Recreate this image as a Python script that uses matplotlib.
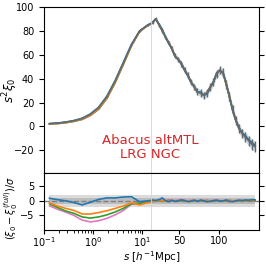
import numpy as np
import matplotlib
matplotlib.use("Agg")
import matplotlib.pyplot as plt

# bin centres: log-spaced small scales, linear large scales
s_small = [0.13, 0.19, 0.28, 0.41, 0.6, 0.88, 1.3, 1.9, 2.8, 4.1, 6.0, 8.8, 13.0]
s_large = [17, 21, 25, 29, 33, 37, 41, 45, 49, 53, 57, 61, 65, 69, 73, 77, 81,
           85, 89, 93, 97, 101, 105, 109, 113, 117, 121, 125, 129, 133, 137, 141, 145]

# s^2 xi_0 of the full sample
full_small = [2.3, 2.8, 3.7, 5.0, 7.0, 10.5, 16.0, 25.0, 38.0, 53.0, 68.0, 80.0, 85.0]
full_large = [87, 90, 85, 80, 75, 70, 65, 59, 56, 52, 47, 43, 37, 33, 29, 28, 26,
              28, 33, 37, 44, 47, 45, 35, 25, 14, 5, -2, -6, -9, -12, -15, -17]

# 1-sigma errors on s^2 xi_0
sig_small = [0.15, 0.15, 0.15, 0.15, 0.18, 0.2, 0.25, 0.3, 0.35, 0.4, 0.5, 0.6, 0.8]
sig_large = [1.0, 1.2, 1.4, 1.5, 1.7, 1.8, 2.0, 2.1, 2.2, 2.4, 2.5, 2.6, 2.7, 2.8,
             2.9, 3.0, 3.0, 3.1, 3.2, 3.2, 3.3, 3.4, 3.5, 3.5, 3.6, 3.7, 3.8, 3.9,
             4.0, 4.1, 4.2, 4.3, 4.4]

# (xi_0 - xi_0^full) / sigma for each sample
diff_small = {
    "C6": [-1.7, -2.9, -3.9, -5.0, -6.6, -7.2, -6.8, -6.0, -4.8, -3.3, -1.2, -0.8, -0.2],
    "C2": [-1.0, -2.3, -3.5, -4.3, -5.5, -5.9, -5.5, -4.8, -3.8, -2.6, -1.0, -0.8, -0.3],
    "C1": [-0.7, -1.8, -2.6, -3.3, -4.5, -4.5, -4.0, -3.4, -2.6, -1.8, -0.7, -1.4, -0.6],
    "C0": [0.9, 0.4, 0.0, -0.6, -1.4, -0.5, 0.5, 1.0, 1.0, 1.3, 1.4, -0.3, 0.0],
}
diff_large = {
    "C6": [0.1, 0.0, 0.2, 0.3, 0.1, 0.4, 0.2, 0.1, 0.3, 0.5, 0.2, 0.0, 0.1, 0.2,
           0.0, -0.1, 0.1, 0.2, 0.0, 0.1, 0.3, 0.1, 0.0, 0.2, 0.1, 0.0, 0.1, 0.2,
           0.1, 0.0, 0.1, 0.2, 0.1],
    "C2": [-0.2, 0.0, 0.1, 0.0, -0.1, 0.1, 0.0, -0.1, 0.0, 0.1, 0.0, -0.1, 0.0,
           0.1, 0.0, -0.1, 0.0, 0.1, 0.0, 0.0, 0.1, 0.0, -0.1, 0.0, 0.1, 0.0, 0.0,
           0.1, 0.0, 0.0, 0.1, 0.0, 0.1],
    "C1": [-0.1, 0.0, 0.1, 0.0, 0.0, 0.1, 0.0, -0.1, 0.0, 0.1, 0.0, 0.0, 0.1, 0.0,
           -0.1, 0.0, 0.1, 0.0, 0.0, 0.1, 0.0, 0.0, -0.1, 0.0, 0.1, 0.0, 0.0, 0.1,
           0.0, 0.0, 0.1, 0.1, 0.1],
    "C0": [0.3, 0.1, 0.4, 1.0, 0.1, -0.3, 0.2, -0.2, 0.0, 0.3, 0.1, -0.3, -0.1,
           0.2, -0.2, 0.3, 0.0, -0.3, -0.2, 0.1, 0.2, -0.1, 0.0, 0.3, -0.2, -0.3,
           0.0, 0.2, 0.1, 0.3, 0.2, 0.4, 0.3],
}

plt.rcParams["font.size"] = 7

fig = plt.figure(figsize=(2.66, 2.66), dpi=100)
gs = fig.add_gridspec(2, 2, height_ratios=[166, 57], width_ratios=[107, 108],
                      left=0.165, right=0.974, top=0.974, bottom=0.135,
                      hspace=0, wspace=0)
ax_tl = fig.add_subplot(gs[0, 0])
ax_tr = fig.add_subplot(gs[0, 1], sharey=ax_tl)
ax_bl = fig.add_subplot(gs[1, 0], sharex=ax_tl)
ax_br = fig.add_subplot(gs[1, 1], sharex=ax_tr, sharey=ax_bl)

s = np.array(s_small + s_large, dtype=float)
full = np.array(full_small + full_large, dtype=float)
sig = np.array(sig_small + sig_large)

# every curve goes on both halves; each half clips to its own x-range
for ax_top, ax_bot in ((ax_tl, ax_bl), (ax_tr, ax_br)):
    ax_top.fill_between(s, full - sig, full + sig, color="C0", alpha=0.25, lw=0)
    for c in diff_small:
        d = np.array(diff_small[c] + diff_large[c])
        ax_top.plot(s, full + d * sig, color=c, lw=1.2)
        ax_bot.plot(s, d, color=c, lw=1.2)
    ax_top.errorbar(s, full, yerr=sig, color="dimgray", lw=1.0, elinewidth=1.0)

    ax_bot.fill_between(s, -2, 2, color="lightgray", alpha=0.8, lw=0, zorder=0)
    ax_bot.fill_between(s, -1, 1, color="darkgray", alpha=0.6, lw=0, zorder=0)
    ax_bot.axhline(0, color="gray", ls="--", lw=1.0, zorder=1)

# left: log scale, right: linear scale
for ax in (ax_tl, ax_bl):
    ax.set_xscale("log")
    ax.set_xlim(0.1, 15)
    ax.spines["right"].set_visible(False)
for ax in (ax_tr, ax_br):
    ax.set_xlim(15, 150)
    ax.set_xticks([50, 100])
    ax.spines["left"].set_color("lightgray")
    ax.spines["left"].set_linewidth(0.6)
    ax.yaxis.tick_right()
    ax.tick_params(labelright=False)

for ax in (ax_tl, ax_tr):
    ax.tick_params(labelbottom=False, bottom=False, which="both")
for ax in (ax_bl, ax_br):
    ax.tick_params(axis="x", pad=1, length=3, which="major")
    ax.tick_params(axis="x", length=1.8, which="minor")

ax_tl.set_ylim(-39, 100)
ax_tl.set_yticks([100, 80, 60, 40, 20, 0, -20])
ax_bl.set_ylim(-10, 9.5)
ax_bl.set_yticks([5, 0, -5])

ax_tl.set_ylabel(r"$s^2\xi_0$", fontsize=8.5)
ax_bl.set_ylabel(r"$(\xi_0-\xi_0^{(full)})/\sigma$", fontsize=7)
ax_tl.yaxis.set_label_coords(-0.22, 0.5)
ax_bl.yaxis.set_label_coords(-0.22, 0.38)
fig.text(0.569, 0.032, r"$s$ [$h^{-1}$Mpc]", ha="center", va="center", fontsize=7.5)

fig.text(0.566, 0.445, "Abacus altMTL\nLRG NGC", color="C3", fontsize=9.5,
         ha="center", va="center", linespacing=1.1)

fig.savefig("out.png", dpi=100)
